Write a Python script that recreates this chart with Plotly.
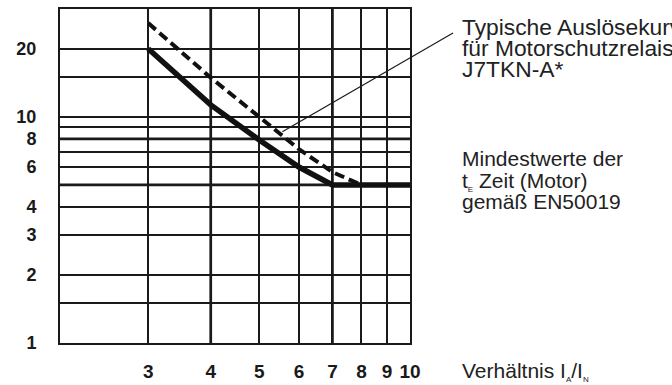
import math
import plotly.graph_objects as go

# Current ratio I_A/I_N (x) and time in seconds (y)
ratio_min = [3, 4, 5, 6, 7, 10]
time_min = [20, 11.3, 7.9, 6.0, 5, 5]          # EN50019 minimum t_E values

ratio_relay = [3, 4, 5, 6, 7, 8]
time_relay = [26, 14.9, 10, 7.2, 5.7, 5]       # typical J7TKN-A* trip curve

x_ticks = [3, 4, 5, 6, 7, 8, 9, 10]
y_ticks = [1, 2, 3, 4, 6, 8, 10, 20]
y_grid = [1.5, 2, 3, 4, 5, 6, 7, 8, 9, 10, 15, 20]
heavy_x = [4, 7]
heavy_y = [5, 8]

X_RANGE = [math.log10(2), 1]
Y_RANGE = [0, math.log10(30)]

W, H = 672, 385
M = dict(l=60, r=262, t=9, b=42)
PW = W - M["l"] - M["r"]
PH = H - M["t"] - M["b"]


def px(x):
    return (x - M["l"]) / PW


def py(y):
    return (H - M["b"] - y) / PH


def data_to_paper(xv, yv):
    xp = (math.log10(xv) - X_RANGE[0]) / (X_RANGE[1] - X_RANGE[0])
    yp = (math.log10(yv) - Y_RANGE[0]) / (Y_RANGE[1] - Y_RANGE[0])
    return xp, yp


INK = "#1a1a1a"
fig = go.Figure()

# heavier grid lines
for xv in heavy_x:
    fig.add_trace(go.Scatter(x=[xv, xv], y=[1, 30], mode="lines",
                             line=dict(color=INK, width=2.7),
                             hoverinfo="skip", showlegend=False))
for yv in heavy_y:
    fig.add_trace(go.Scatter(x=[2, 10], y=[yv, yv], mode="lines",
                             line=dict(color=INK, width=2.7),
                             hoverinfo="skip", showlegend=False))

fig.add_trace(go.Scatter(x=ratio_relay, y=time_relay, mode="lines",
                         line=dict(color="#111111", width=4, dash="10px,5px"),
                         showlegend=False))
fig.add_trace(go.Scatter(x=ratio_min, y=time_min, mode="lines",
                         line=dict(color="#111111", width=5.5),
                         showlegend=False))

tick_font_y = dict(family="Liberation Sans", size=18, color=INK, weight="bold")
tick_font_x = dict(family="Liberation Sans", size=19, color=INK, weight="bold")

fig.update_xaxes(type="log", range=X_RANGE, tickvals=x_ticks,
                 ticktext=[str(v) for v in x_ticks],
                 showgrid=True, gridcolor=INK, gridwidth=2,
                 showline=True, linecolor=INK, linewidth=2, mirror=True,
                 ticks="", ticklabelstandoff=10, tickfont=tick_font_x,
                 zeroline=False, fixedrange=True, automargin=False)
fig.update_yaxes(type="log", range=Y_RANGE, tickvals=y_ticks,
                 ticktext=[str(v) for v in y_ticks],
                 showgrid=True, gridcolor=INK, gridwidth=2,
                 minor=dict(tickvals=y_grid, showgrid=True,
                            gridcolor=INK, gridwidth=2, ticks=""),
                 showline=True, linecolor=INK, linewidth=2, mirror=True,
                 ticks="", ticklabelstandoff=18, tickfont=tick_font_y,
                 zeroline=False, fixedrange=True, automargin=False)

# leader from the relay curve to its caption
x0p, y0p = data_to_paper(5.56, 8.6)
fig.add_shape(type="line", xref="paper", yref="paper",
              x0=x0p, y0=y0p, x1=px(453), y1=py(33),
              line=dict(color=INK, width=1.2), layer="above")

sub = '<span style="font-size:8px">{}</span>'
captions = [
    ("Typische Auslösekurve", 27.5, 22.8),
    ("für Motorschutzrelais", 48.5, 22.8),
    ("J7TKN-A*", 69.5, 22.8),
    ("Mindestwerte der", 158.5, 21),
    ("t<sub>" + sub.format("E") + "</sub> Zeit (Motor)", 181.5, 21),
    ("gemäß EN50019", 201, 21),
    ("Verhältnis I<sub>" + sub.format("A") + "</sub>/I<sub>" + sub.format("N") + "</sub>", 371, 21),
]
for txt, ymid, size in captions:
    fig.add_annotation(text=txt, xref="paper", yref="paper",
                       x=px(460), y=py(ymid), xanchor="left", yanchor="middle",
                       showarrow=False, align="left",
                       font=dict(family="Liberation Sans", size=size, color="#222222"))

fig.update_layout(width=W, height=H, margin=M,
                  paper_bgcolor="white", plot_bgcolor="white",
                  showlegend=False)

fig.write_html("out.html")
